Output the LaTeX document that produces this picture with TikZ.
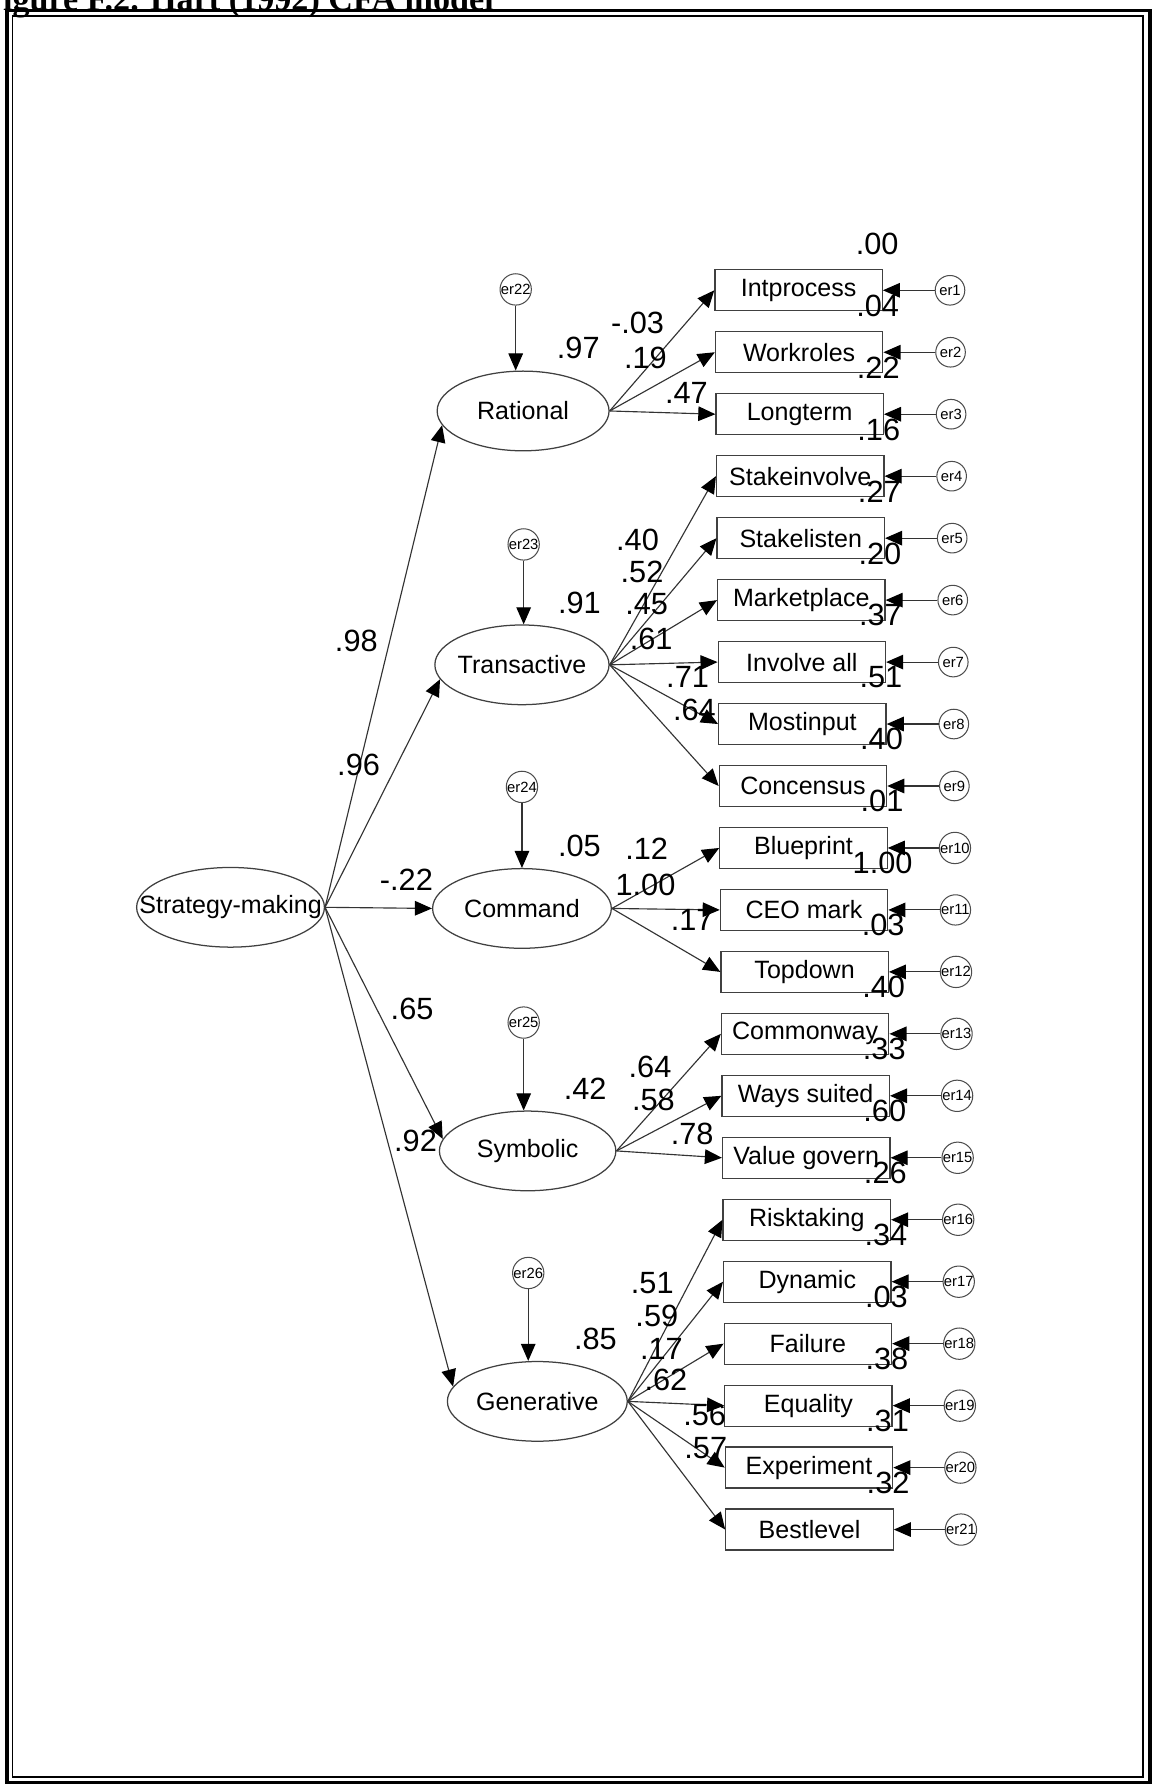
\documentclass[tikz,border=0pt]{standalone}
\usepackage{fontspec}
\setmainfont{Liberation Serif}
\setsansfont{Liberation Sans}
\usetikzlibrary{arrows.meta,positioning,shapes.geometric}
\newcommand{\ztext}[1]{\makebox[0pt]{#1}}
\tikzset{
  latent/.style={ellipse,draw=black!75,line width=0.55pt,minimum height=35pt,inner sep=0pt,font=\sffamily\fontsize{11}{13}\selectfont},
  manifest/.style={rectangle,draw=black!75,line width=0.55pt,minimum width=73.5pt,minimum height=18pt,inner sep=0pt,font=\sffamily\fontsize{11}{13}\selectfont},
  errc/.style={circle,draw=black!70,line width=0.45pt,minimum size=13pt,inner sep=0pt,font=\sffamily\fontsize{6.5}{7}\selectfont},
  est/.style={inner sep=0pt,font=\sffamily\fontsize{13.5}{15}\selectfont},
  link/.style={draw=black!80,line width=0.5pt,-{Triangle[length=7.5pt,width=6.4pt,color=black,fill=black]}}
}
\begin{document}
\begin{tikzpicture}[x=0.5pt,y=-0.5pt]
  \useasboundingbox (0,0) rectangle (1015,1568);
  % caption, cut off at the top of the scan
  \node[anchor=base west,inner sep=0pt,font=\bfseries\fontsize{15}{18}\selectfont] (title) at (-16,9.5) {Figure F.2. Hart (1992) CFA model};
  \draw[line width=1.5pt] (6,9) rectangle (1010,1566);
  \draw[line width=0.6pt] (11,14) rectangle (1004,1561);

  % latent variables
  \node[latent,minimum width=82.5pt] (sm) at (202.5,797) {\ztext{Strategy-making}};
  \node[latent,minimum width=75.5pt] (rat) at (459.5,361) {\ztext{Rational}};
  \node[latent,minimum width=76.5pt] (tra) at (458.5,584) {\ztext{Transactive}};
  \node[latent,minimum width=78.5pt] (com) at (458.5,798) {\ztext{Command}};
  \node[latent,minimum width=77.5pt] (sym) at (463.5,1011) {\ztext{Symbolic}};
  \node[latent,minimum width=79pt] (gen) at (472,1231) {\ztext{Generative}};

  % disturbances
  \node[errc,above=28.5pt of rat,xshift=-3.25pt] (d22) {er22};
  \node[errc,above=28pt of tra,xshift=0.75pt] (d23) {er23};
  \node[errc,above=28.5pt of com] (d24) {er24};
  \node[errc,above=31.5pt of sym,xshift=-1.75pt] (d25) {er25};
  \node[errc,above=31.5pt of gen,xshift=-4pt] (d26) {er26};
  \foreach \d/\l in {22/rat,23/tra,24/com,25/sym,26/gen}
    \draw[link] (d\d) -- (d\d |- \l.north);

  % indicators, their errors and squared multiple correlations
  \foreach \i/\var/\rsq in {1/Intprocess/.00,2/Workroles/.04,3/Longterm/.22,4/Stakeinvolve/.16,5/Stakelisten/.27,6/Marketplace/.20,7/Involve all/.37,8/Mostinput/.51,9/Concensus/.40,10/Blueprint/.01,11/CEO mark/1.00,12/Topdown/.03,13/Commonway/.40,14/Ways suited/.33,15/Value govern/.60,16/Risktaking/.26,17/Dynamic/.34,18/Failure/.03,19/Equality/.38,20/Experiment/.31,21/Bestlevel/.32}{
    \pgfmathsetmacro{\by}{255+(\i-1)*54.43}
    \pgfmathsetmacro{\bx}{701.5+(\i-1)*0.48}
    \node[manifest] (v\i) at (\bx,\by) {\var};
    \node[errc] (e\i) at (\bx+133,\by) {er\i};
    \node[est] (r\i) at (\bx+69,\by-41) {\rsq};
    \draw[link] (e\i) -- (v\i);
  }

  % structural paths
  \draw[link] (sm.east) -- (rat.190);
  \draw[link] (sm.east) -- (tra.190);
  \draw[link] (sm.east) -- (com.west);
  \draw[link] (sm.east) -- (sym.172);
  \draw[link] (sm.east) -- (gen.170);

  % loadings
  \foreach \i in {1,2,3} \draw[link] (rat.east) -- (v\i.west);
  \foreach \i in {4,...,9} \draw[link] (tra.east) -- (v\i.west);
  \foreach \i in {10,11,12} \draw[link] (com.east) -- (v\i.west);
  \foreach \i in {13,14,15} \draw[link] (sym.east) -- (v\i.west);
  \foreach \i in {16,...,21} \draw[link] (gen.east) -- (v\i.west);

  % estimates
  \foreach \n/\x/\y/\t in {pa/313/563/.98,pb/315/672/.96,pc/357/773/-.22,pd/362/886/.65,pe/365/1002/.92,
      sa/508/306/.97,la1/560/284/-.03,la2/567/314/.19,la3/603/345/.47,
      sb/509/530/.91,lb1/560/474/.40,lb2/564/502/.52,lb3/568/531/.45,lb4/572/561/.61,lb5/604/595/.71,lb6/610/624/.64,
      sc/509/743/.05,lc1/568/746/.12,lc2/567/777/1.00,lc3/608/808/.17,
      sd/514/956/.42,ld1/571/937/.64,ld2/574/966/.58,ld3/608/996/.78,
      se/523/1176/.85,le1/573/1127/.51,le2/577/1156/.59,le3/581/1185/.17,le4/585/1212/.62,le5/619/1243/.56,le6/620/1272/.57}
    \node[est] (\n) at (\x,\y) {\t};
\end{tikzpicture}
\end{document}
